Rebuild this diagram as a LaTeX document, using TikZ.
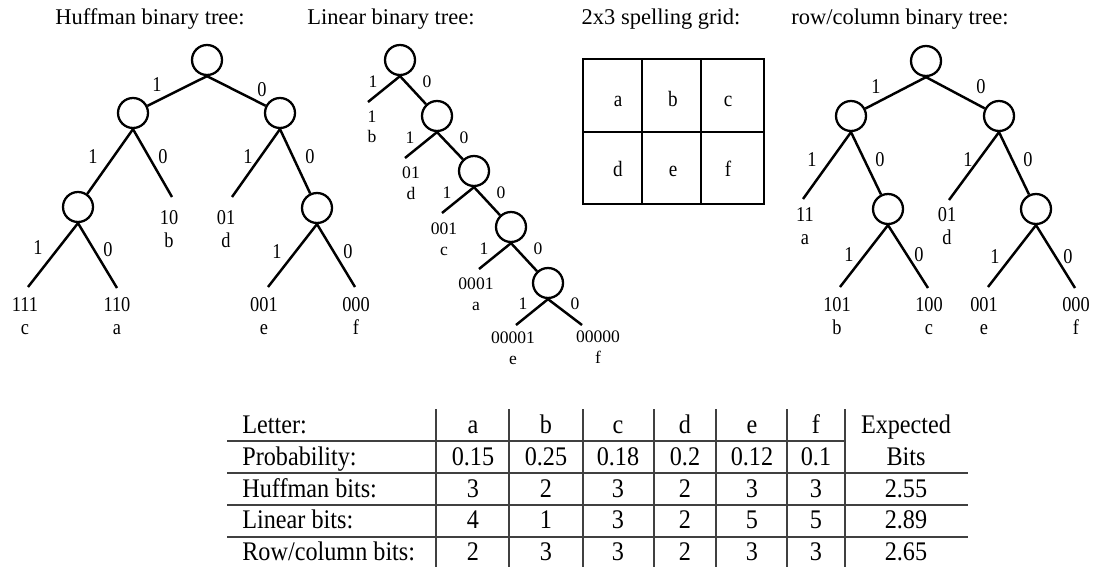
\documentclass[tikz,border=0pt]{standalone}
\usepackage{fontspec}
\setmainfont{Liberation Serif}
\newfontfamily\estreita[FakeStretch=0.87]{Liberation Serif}
\newfontfamily\tabfonte[FakeStretch=0.9]{Liberation Serif}

\begin{document}
\begin{tikzpicture}[x=0.02cm, y=-0.02cm,
    vert/.style={draw, circle, minimum size=0.6cm, inner sep=0pt, line width=1.3pt},
    ramo/.style={line width=1.4pt},
    titulo/.style={anchor=base, inner sep=0pt, font=\fontsize{12.8}{15}\selectfont},
    bit/.style={inner sep=0pt, font=\estreita\fontsize{12}{13}\selectfont},
    folha/.style={align=center, inner sep=0pt, font=\estreita\fontsize{12}{13}\selectfont},
    bitp/.style={inner sep=0pt, font=\fontsize{10}{11.7}\selectfont},
    folhap/.style={align=center, inner sep=0pt, font=\fontsize{10}{11.7}\selectfont},
    letra/.style={anchor=base, inner sep=0pt, font=\estreita\fontsize{12.5}{15}\selectfont},
    cel/.style={anchor=base, inner sep=0pt, font=\tabfonte\fontsize{15.3}{17}\selectfont},
    rot/.style={cel, anchor=base west},
    regra/.style={line width=0.8pt, black!75}]
  \useasboundingbox (0,0) rectangle (1094,567);

  % Arvore de Huffman
  \node[titulo] (th) at (150,25) {Huffman binary tree:};
  \node[vert] (h) at (207,60) {};
  \node[vert] (h1) at (133,113) {};
  \node[vert] (h0) at (280,113) {};
  \node[vert] (h11) at (78,207) {};
  \node[vert] (h00) at (317,208) {};
  \coordinate (h10) at (172,197);
  \coordinate (h01) at (232,197);
  \coordinate (h111) at (28,287);
  \coordinate (h110) at (117,288);
  \coordinate (h001) at (268,287);
  \coordinate (h000) at (355,287);

  \draw[ramo] (h.south) -- (h1);
  \draw[ramo] (h.south) -- (h0);
  \draw[ramo] (h1.south) -- (h11);
  \draw[ramo] (h1.south) -- (h10);
  \draw[ramo] (h0.south) -- (h01);
  \draw[ramo] (h0.south) -- (h00);
  \draw[ramo] (h11.south) -- (h111);
  \draw[ramo] (h11.south) -- (h110);
  \draw[ramo] (h00.south) -- (h001);
  \draw[ramo] (h00.south) -- (h000);

  \node[bit] (hb1) at (157,85) {1};
  \node[bit] (hb0) at (262,90) {0};
  \node[bit] (h1b1) at (93,157) {1};
  \node[bit] (h1b0) at (163,157) {0};
  \node[bit] (h0b1) at (248,157) {1};
  \node[bit] (h0b0) at (310,157) {0};
  \node[bit] (h11b1) at (38,248) {1};
  \node[bit] (h11b0) at (108,250) {0};
  \node[bit] (h00b1) at (277,252) {1};
  \node[bit] (h00b0) at (348,252) {0};

  \node[folha] (lh10) at (169,229) {10\\b};
  \node[folha] (lh01) at (226,229) {01\\d};
  \node[folha] (lh111) at (25,316) {111\\c};
  \node[folha] (lh110) at (117,316) {110\\a};
  \node[folha] (lh001) at (264,316) {001\\e};
  \node[folha] (lh000) at (356,316) {000\\f};

  % Arvore linear
  \node[titulo] (tl) at (391,25) {Linear binary tree:};
  \node[vert] (l) at (400,60) {};
  \node[vert] (l0) at (437,116) {};
  \node[vert] (l00) at (474,171) {};
  \node[vert] (l000) at (511,227) {};
  \node[vert] (l0000) at (548,283) {};
  \coordinate (l1) at (368,102);
  \coordinate (l01) at (405,158);
  \coordinate (l001) at (442,213);
  \coordinate (l0001) at (479,269);
  \coordinate (l00001) at (516,325);
  \coordinate (l00000) at (582,325);

  \draw[ramo] (l.south) -- (l1);
  \draw[ramo] (l.south) -- (l0);
  \draw[ramo] (l0.south) -- (l01);
  \draw[ramo] (l0.south) -- (l00);
  \draw[ramo] (l00.south) -- (l001);
  \draw[ramo] (l00.south) -- (l000);
  \draw[ramo] (l000.south) -- (l0001);
  \draw[ramo] (l000.south) -- (l0000);
  \draw[ramo] (l0000.south) -- (l00001);
  \draw[ramo] (l0000.south) -- (l00000);

  \node[bitp] (lb1) at (373,82) {1};
  \node[bitp] (lb0) at (427,82) {0};
  \node[bitp] (l0b1) at (410,138) {1};
  \node[bitp] (l0b0) at (464,138) {0};
  \node[bitp] (l00b1) at (447,193) {1};
  \node[bitp] (l00b0) at (501,193) {0};
  \node[bitp] (l000b1) at (484,249) {1};
  \node[bitp] (l000b0) at (538,249) {0};
  \node[bitp] (l0000b1) at (523,304) {1};
  \node[bitp] (l0000b0) at (575,304) {0};

  \node[folhap] (ll1) at (372,127) {1\\b};
  \node[folhap] (ll01) at (411,183) {01\\d};
  \node[folhap] (ll001) at (444,239) {001\\c};
  \node[folhap] (ll0001) at (476,294) {0001\\a};
  \node[folhap] (ll00001) at (513,348) {00001\\e};
  \node[folhap] (ll00000) at (598,347) {00000\\f};

  % Grade 2x3
  \node[titulo] (tg) at (661,25) {2x3 spelling grid:};
  \draw[line width=1.2pt] (583,59) rectangle (764,204);
  \draw[line width=1.2pt] (583,132) -- (764,132);
  \draw[line width=1.2pt] (642,59) -- (642,204);
  \draw[line width=1.2pt] (701,59) -- (701,204);
  \node[letra] (ga) at (618,107) {a};
  \node[letra] (gb) at (673,107) {b};
  \node[letra] (gc) at (728,107) {c};
  \node[letra] (gd) at (618,177) {d};
  \node[letra] (ge) at (673,177) {e};
  \node[letra] (gf) at (728,177) {f};

  % Arvore linha/coluna
  \node[titulo] (tr) at (900,25) {row/column binary tree:};
  \node[vert] (r) at (926,61) {};
  \node[vert] (r1) at (851,116) {};
  \node[vert] (r0) at (999,116) {};
  \node[vert] (r10) at (888,209) {};
  \node[vert] (r00) at (1036,209) {};
  \coordinate (r11) at (803,199);
  \coordinate (r01) at (949,200);
  \coordinate (r101) at (840,287);
  \coordinate (r100) at (928,288);
  \coordinate (r001) at (988,287);
  \coordinate (r000) at (1075,288);

  \draw[ramo] (r.south) -- (r1);
  \draw[ramo] (r.south) -- (r0);
  \draw[ramo] (r1.south) -- (r11);
  \draw[ramo] (r1.south) -- (r10);
  \draw[ramo] (r0.south) -- (r01);
  \draw[ramo] (r0.south) -- (r00);
  \draw[ramo] (r10.south) -- (r101);
  \draw[ramo] (r10.south) -- (r100);
  \draw[ramo] (r00.south) -- (r001);
  \draw[ramo] (r00.south) -- (r000);

  \node[bit] (rb1) at (876,87) {1};
  \node[bit] (rb0) at (981,87) {0};
  \node[bit] (r1b1) at (812,160) {1};
  \node[bit] (r1b0) at (880,160) {0};
  \node[bit] (r0b1) at (968,160) {1};
  \node[bit] (r0b0) at (1028,160) {0};
  \node[bit] (r10b1) at (849,255) {1};
  \node[bit] (r10b0) at (919,255) {0};
  \node[bit] (r00b1) at (995,257) {1};
  \node[bit] (r00b0) at (1068,257) {0};

  \node[folha] (lr11) at (805,226) {11\\a};
  \node[folha] (lr01) at (947,226) {01\\d};
  \node[folha] (lr101) at (837,316) {101\\b};
  \node[folha] (lr100) at (929,316) {100\\c};
  \node[folha] (lr001) at (984,316) {001\\e};
  \node[folha] (lr000) at (1076,316) {000\\f};

  % Tabela
  \draw[regra] (227,441) -- (845,441);
  \draw[regra] (227,473) -- (968,473);
  \draw[regra] (227,505) -- (968,505);
  \draw[regra] (227,537) -- (968,537);
  \draw[regra] (436,409) -- (436,567);
  \draw[regra] (509,409) -- (509,567);
  \draw[regra] (583,409) -- (583,567);
  \draw[regra] (654,409) -- (654,567);
  \draw[regra] (716,409) -- (716,567);
  \draw[regra] (787,409) -- (787,567);
  \draw[regra] (845,409) -- (845,567);

  \node[rot] (tlet) at (242,433) {Letter:};
  \node[rot] (tprob) at (242,465) {Probability:};
  \node[rot] (thuf) at (242,497) {Huffman bits:};
  \node[rot] (tlin) at (242,528) {Linear bits:};
  \node[rot] (trow) at (242,560) {Row/column bits:};

  \node[cel] (ca) at (473,433) {a};
  \node[cel] (cb) at (546,433) {b};
  \node[cel] (cc) at (618,433) {c};
  \node[cel] (cd) at (685,433) {d};
  \node[cel] (ce) at (752,433) {e};
  \node[cel] (cf) at (816,433) {f};
  \node[cel] (cexp) at (906,433) {Expected};

  \node[cel] (pa) at (473,465) {0.15};
  \node[cel] (pb) at (546,465) {0.25};
  \node[cel] (pc) at (618,465) {0.18};
  \node[cel] (pd) at (685,465) {0.2};
  \node[cel] (pe) at (752,465) {0.12};
  \node[cel] (pf) at (816,465) {0.1};
  \node[cel] (pbits) at (906,465) {Bits};

  \node[cel] (ha) at (473,497) {3};
  \node[cel] (hb) at (546,497) {2};
  \node[cel] (hc) at (618,497) {3};
  \node[cel] (hd) at (685,497) {2};
  \node[cel] (he) at (752,497) {3};
  \node[cel] (hf) at (816,497) {3};
  \node[cel] (hx) at (906,497) {2.55};

  \node[cel] (na) at (473,528) {4};
  \node[cel] (nb) at (546,528) {1};
  \node[cel] (nc) at (618,528) {3};
  \node[cel] (nd) at (685,528) {2};
  \node[cel] (ne) at (752,528) {5};
  \node[cel] (nf) at (816,528) {5};
  \node[cel] (nx) at (906,528) {2.89};

  \node[cel] (ra) at (473,560) {2};
  \node[cel] (rb) at (546,560) {3};
  \node[cel] (rc) at (618,560) {3};
  \node[cel] (rd) at (685,560) {2};
  \node[cel] (re) at (752,560) {3};
  \node[cel] (rf) at (816,560) {3};
  \node[cel] (rx) at (906,560) {2.65};
\end{tikzpicture}
\end{document}
